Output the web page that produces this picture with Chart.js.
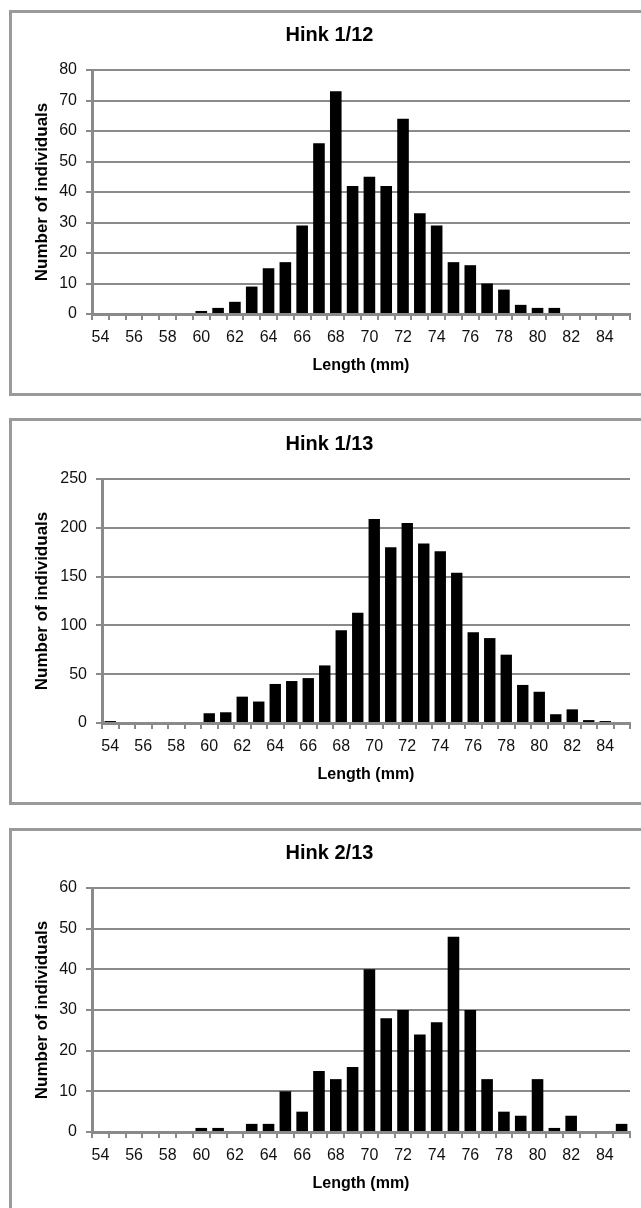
<!DOCTYPE html>
<html>
<head>
<meta charset="utf-8">
<script src="https://cdn.jsdelivr.net/npm/chart.js@4.4.0/dist/chart.umd.min.js"></script>
<style>
  html, body { margin: 0; padding: 0; background: #fff; overflow: hidden; width: 641px; height: 1208px; }
  .box { position: absolute; left: 9px; width: 700px; border: 3px solid #9a9a9a; box-sizing: border-box; }
  canvas { position: absolute; left: 0; }
</style>
</head>
<body>
<div class="box" style="top:10px;height:386px"></div>
<div class="box" style="top:418px;height:387px"></div>
<div class="box" style="top:828px;height:420px"></div>
<canvas id="hink112" width="641" height="390" style="top:0px"></canvas>
<canvas id="hink113" width="641" height="390" style="top:409px"></canvas>
<canvas id="hink213" width="641" height="390" style="top:818px"></canvas>
<script>
// length classes (mm)
const lengths = [54, 55, 56, 57, 58, 59, 60, 61, 62, 63, 64, 65, 66, 67, 68, 69,
                 70, 71, 72, 73, 74, 75, 76, 77, 78, 79, 80, 81, 82, 83, 84, 85];

// number of individuals per length class
const hink112 = [0, 0, 0, 0, 0, 0, 1, 2, 4, 9, 15, 17, 29, 56, 73, 42,
                 45, 42, 64, 33, 29, 17, 16, 10, 8, 3, 2, 2, 0, 0, 0, 0];
const hink113 = [2, 0, 0, 0, 0, 0, 10, 11, 27, 22, 40, 43, 46, 59, 95, 113,
                 209, 180, 205, 184, 176, 154, 93, 87, 70, 39, 32, 9, 14, 3, 2, 0];
const hink213 = [0, 0, 0, 0, 0, 0, 1, 1, 0, 2, 2, 10, 5, 15, 13, 16,
                 40, 28, 30, 24, 27, 48, 30, 13, 5, 4, 13, 1, 4, 0, 0, 2];

const titles = ['Hink 1/12', 'Hink 1/13', 'Hink 2/13'];
const yMax = [80, 250, 60];
const yStep = [10, 50, 10];

const FONT = '"Liberation Sans", Arial, sans-serif';
const GRID = '#8a8a8a';

Chart.defaults.color = '#111';
Chart.defaults.font.family = FONT;

function makeChart(id, title, values, max, step, axisWidth) {
  return new Chart(document.getElementById(id), {
    type: 'bar',
    data: {
      labels: lengths,
      datasets: [{
        data: values,
        backgroundColor: '#000',
        borderWidth: 0,
        barPercentage: 0.69,
        categoryPercentage: 1,
      }],
    },
    options: {
      responsive: false,
      animation: false,
      layout: { padding: { left: 29, right: 11, top: 13, bottom: 0 } },
      plugins: {
        legend: { display: false },
        tooltip: { enabled: false },
        title: {
          display: true,
          text: title,
          color: '#000',
          font: { size: 20, weight: 'bold' },
          padding: { top: 10, bottom: 23 },
        },
      },
      scales: {
        x: {
          afterFit: (scale) => { scale.height = 76; },
          grid: { drawOnChartArea: false, drawTicks: true, tickLength: 6, color: GRID, lineWidth: 2 },
          border: { display: true, color: GRID, width: 3 },
          ticks: {
            autoSkip: false,
            maxRotation: 0,
            padding: 8,
            font: { size: 16 },
            callback: function (value, index) {
              const v = lengths[index];
              return v % 2 === 0 ? String(v) : '';
            },
          },
          title: {
            display: true,
            text: 'Length (mm)',
            color: '#000',
            font: { size: 16, weight: 'bold' },
            padding: { top: 0, bottom: 15 },
          },
        },
        y: {
          min: 0,
          max: max,
          afterFit: (scale) => { scale.width = axisWidth; },
          grid: { color: GRID, lineWidth: 2, drawTicks: true, tickLength: 6 },
          border: { display: true, color: GRID, width: 3 },
          ticks: { stepSize: step, padding: 9, font: { size: 16 } },
          title: {
            display: true,
            text: 'Number of individuals',
            color: '#000',
            font: { size: 17, weight: 'bold' },
            padding: { top: 3, bottom: 0 },
          },
        },
      },
    },
  });
}

makeChart('hink112', titles[0], hink112, yMax[0], yStep[0], 63);
makeChart('hink113', titles[1], hink113, yMax[1], yStep[1], 73);
makeChart('hink213', titles[2], hink213, yMax[2], yStep[2], 63);
</script>
</body>
</html>
